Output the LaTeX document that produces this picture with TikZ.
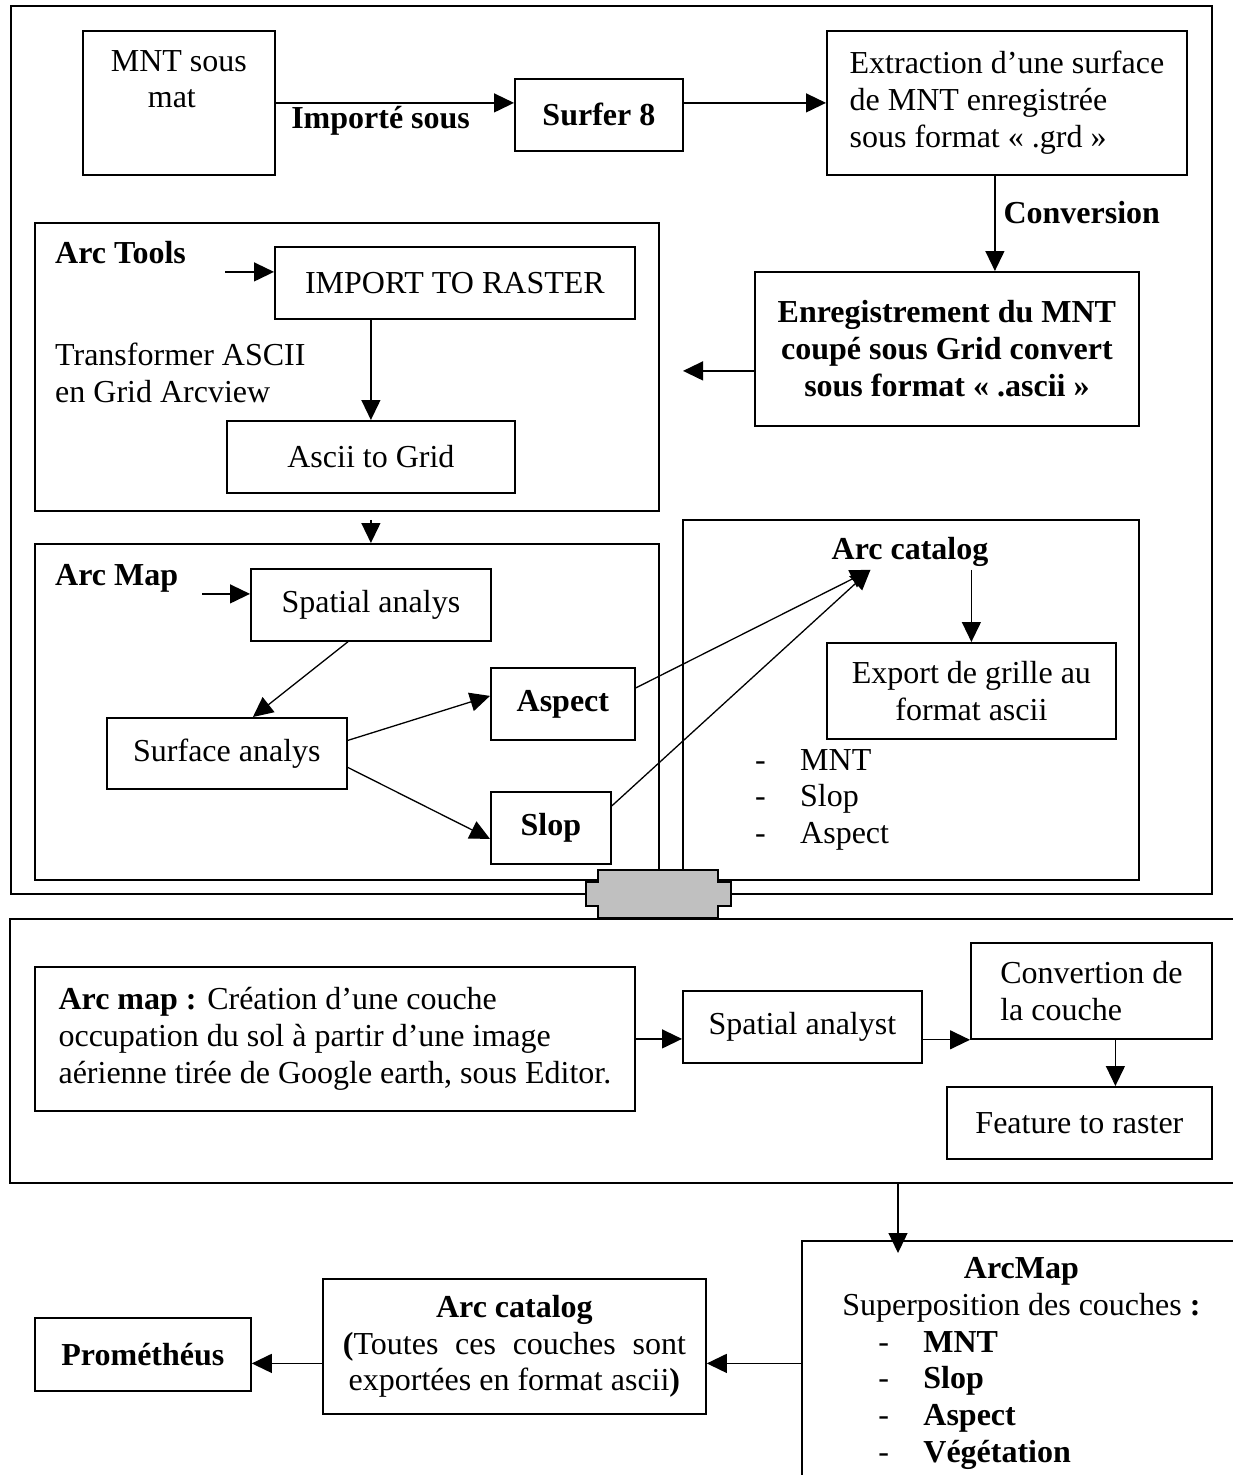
\documentclass[tikz,border=0pt]{standalone}
\usepackage{fontspec}
\setmainfont{Liberation Serif}
\usetikzlibrary{arrows.meta,positioning}
\usepackage{xcolor}
\definecolor{pluggrey}{RGB}{192,192,192}
\newcommand{\diagfont}{\fontsize{32}{36.8}\selectfont}
\newcommand{\listdash}{\makebox[45pt][l]{-}}
\newcommand{\finalitem}[1]{\makebox[356pt][l]{\hspace*{35pt}\listdash\textbf{#1}}}
\tikzset{
  box/.style={
    draw,
    line width=1.8pt,
    anchor=north west,
    align=center,
    minimum height=72pt,
    font=\diagfont,
    inner sep=3pt
  },
  boldbox/.style={
    box,
    font=\diagfont\bfseries
  },
  groupbox/.style={draw, line width=1.8pt, anchor=north west, inner sep=0pt},
  tag/.style={font=\diagfont\bfseries, inner sep=3pt},
  note/.style={font=\diagfont, inner sep=3pt},
  arrow/.style={-{Triangle[length=20pt,width=19pt]}, line width=1.3pt},
}

\begin{document}
\begin{tikzpicture}[x=1pt, y=-1pt]
\useasboundingbox (0,0) rectangle (1232,1475);

% Group frames
\node[groupbox, minimum width=1201pt, minimum height=888pt] (top) at (10,5) {};
\node[groupbox, minimum width=624pt, minimum height=288pt] (tools) at (34,222) {};
\node[groupbox, minimum width=624pt, minimum height=336pt] (map) at (34,543) {};
\node[groupbox, minimum width=456pt, minimum height=360pt] (catbox) at (682,519) {};
\node[groupbox, minimum width=1231pt, minimum height=264pt] (middle) at (9,918) {};

% MNT, Surfer and conversion
\node[box, minimum width=192pt, minimum height=144pt, align=left] (mnt) at (82,30) {MNT sous\\\hspace*{37pt}mat\\\strut};
\node[boldbox, minimum width=168pt] (surfer) at (514,78) {Surfer 8};
\node[box, minimum width=360pt, minimum height=144pt, align=left] (extract) at (826,30) {Extraction d’une surface\\de MNT enregistrée\\sous format « .grd »};
\node[boldbox, minimum width=384pt, minimum height=154pt] (enreg) at (754,271) {Enregistrement du MNT\\coupé sous Grid convert\\sous format « .ascii »};

\draw[arrow] (mnt.east) -- node[tag, below, pos=0.44] (importlbl) {Importé sous} (mnt.east -| surfer.west);
\draw[arrow] ([yshift=12pt]surfer.east) -- (extract.west);
\draw[arrow] ([xshift=-12pt]extract.south) -- node[tag, right, xshift=5pt, yshift=11pt] (convlbl) {Conversion} ([xshift=-12pt]extract.south |- enreg.north);
\draw[arrow] ([yshift=-22pt]enreg.west) -- ++(-71,0);

% Arc Tools
\node[tag, anchor=base west] (toolstag) at (52,263) {Arc Tools};
\node[box, minimum width=360pt] (import) at (274,246) {IMPORT TO RASTER};
\node[note, anchor=north west, align=left] (transf) at (52,340) {Transformer ASCII\\en Grid Arcview};
\node[box, minimum width=288pt] (ascii) at (226,420) {Ascii to Grid};
\draw[arrow] ([xshift=-49pt, yshift=11pt]import.west) -- ([yshift=11pt]import.west);
\draw[arrow] (ascii.north |- import.south) -- (ascii.north);
\draw[arrow] ([yshift=-8pt]tools.south -| ascii.south) -- (map.north -| ascii.south);

% Arc Map
\node[tag, anchor=base west] (maptag) at (52,585) {Arc Map};
\node[box, minimum width=240pt] (spatial) at (250,568) {Spatial analys};
\node[box, minimum width=240pt, minimum height=71pt] (surface) at (106,717) {Surface analys};
\node[boldbox, minimum width=144pt] (aspect) at (490,667) {Aspect};
\node[boldbox, minimum width=120pt] (slop) at (490,791) {Slop};
\draw[arrow] ([xshift=-48pt, yshift=11pt]spatial.west) -- ([yshift=11pt]spatial.west);
\draw[arrow] ([xshift=-23pt]spatial.south) -- ([xshift=26pt]surface.north);
\draw[arrow] ([yshift=13pt]surface.east) -- ([yshift=8pt]aspect.west);
\draw[arrow] ([yshift=-14pt]surface.east) -- ([yshift=-11pt]slop.west);

% Arc catalog
\node[tag] (catalog) at (910,552) {Arc catalog};
\node[box, minimum width=289pt, minimum height=96pt] (export) at (826,642) {Export de grille au\\format ascii};
\node[note, anchor=north west, align=left] (exported) at (752,746) {\listdash MNT\\\listdash Slop\\\listdash Aspect};
\draw[arrow] ([yshift=16pt]aspect.east) -- ([xshift=42pt]catalog.south west);
\draw[arrow] ([yshift=22pt]slop.east) -- ([xshift=42pt]catalog.south west);
\draw[arrow] (export.north |- catalog.south) -- (export.north);

% Land cover layer
\node[box, minimum width=600pt, minimum height=144pt, align=left] (occup) at (34,966) {\textbf{Arc map :} Création d’une couche\\occupation du sol à partir d’une image\\aérienne tirée de Google earth, sous Editor.};
\node[box, minimum width=239pt] (spat2) at (682,990) {Spatial analyst};
\node[box, minimum width=241pt, minimum height=96pt, align=left] (convert) at (970,942) {Convertion de\\la couche};
\node[box, minimum width=265pt] (feature) at (946,1086) {Feature to raster};
\draw[arrow] (occup.east) -- (occup.east -| spat2.west);
\draw[arrow] (spat2.east |- convert.south west) -- (convert.south west);
\draw[arrow] ([xshift=24pt]convert.south) -- ([xshift=24pt]convert.south |- feature.north);

% Link between the two parts
\filldraw[fill=pluggrey, line width=1.5pt] (598,870) -- (718,870) -- (718,882) -- (731,882) -- (731,906) -- (718,906) -- (718,918) -- (598,918) -- (598,906) -- (586,906) -- (586,882) -- (598,882) -- cycle;

% Final stage
\node[box, minimum width=439pt, minimum height=245pt] (final) at (801,1240) {\textbf{ArcMap}\\Superposition des couches \textbf{:}\\\finalitem{MNT}\\\finalitem{Slop}\\\finalitem{Aspect}\\\finalitem{Végétation}};
\node[box, minimum width=383pt, minimum height=135pt] (cat2) at (322,1278) {\textbf{Arc catalog}\\\makebox[343pt][s]{\textbf{(}Toutes ces couches sont}\\exportées en format ascii\textbf{)}};
\node[boldbox, minimum width=216pt, minimum height=73pt] (prom) at (34,1317) {Prométhéus};
\draw[arrow] ([xshift=97pt]final.north west |- middle.south) -- ([xshift=97pt, yshift=-13pt]final.north west);
\draw[arrow] (final.west) -- (final.west -| cat2.east);
\draw[arrow] (cat2.west |- final.west) -- (prom.east |- final.west);

\end{tikzpicture}
\end{document}
